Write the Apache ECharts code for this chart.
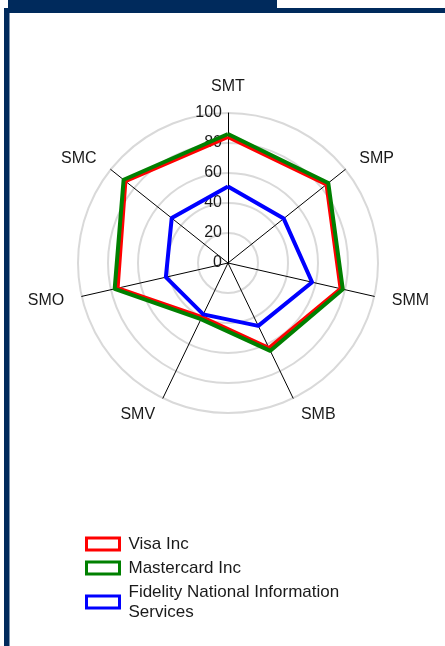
<!DOCTYPE html>
<html>
<head>
<meta charset="utf-8">
<script src="https://cdn.jsdelivr.net/npm/echarts@6/dist/echarts.min.js"></script>
<style>
html,body{margin:0;padding:0;background:#fff;}
#chart{width:445px;height:646px;}
</style>
</head>
<body>
<div id="chart"></div>
<script>
// Indicators in ECharts drawing order (counter-clockwise from top)
const categories = ['SMT', 'SMC', 'SMO', 'SMV', 'SMB', 'SMM', 'SMP'];
const seriesNames = ['Visa Inc', 'Mastercard Inc', 'Fidelity National Information Services'];
const visaValues = [84, 87.5, 75.5, 40, 63, 77, 84];
const mastercardValues = [86, 89, 77.5, 41.5, 65, 78.5, 85.5];
const fidelityValues = [51, 48, 42.5, 38, 46.5, 57.5, 47.5];
const seriesColors = ['#ff0000', '#008000', '#0000ff'];
const axisMax = 100;

const valueSets = [visaValues, mastercardValues, fidelityValues];
const labelFont = '"Liberation Sans Narrow", "Liberation Sans", Arial, sans-serif';

const chart = echarts.init(document.getElementById('chart'), null, {renderer: 'canvas'});
chart.setOption({
  animation: false,
  backgroundColor: '#ffffff',
  graphic: [
    {type: 'rect', shape: {x: 8, y: 0, width: 269, height: 9}, style: {fill: '#002a5c'}},
    {type: 'rect', shape: {x: 4, y: 8, width: 441, height: 5}, style: {fill: '#002a5c'}},
    {type: 'rect', shape: {x: 4, y: 8, width: 5.5, height: 638}, style: {fill: '#002a5c'}}
  ],
  legend: {
    orient: 'vertical',
    left: 80,
    top: 529,
    height: 117,
    itemWidth: 33,
    itemHeight: 12,
    itemGap: 4,
    icon: 'rect',
    data: seriesNames.map((n, i) => ({
      name: n,
      itemStyle: {color: '#ffffff', borderColor: seriesColors[i], borderWidth: 3}
    })),
    textStyle: {
      fontFamily: '"Liberation Sans", Arial, sans-serif',
      fontSize: 17,
      color: '#1a1a1a',
      width: 240,
      overflow: 'break',
      lineHeight: 20,
      padding: [0, 0, 0, 4]
    }
  },
  radar: {
    center: [228, 263],
    radius: 150,
    startAngle: 90,
    shape: 'circle',
    splitNumber: 5,
    nameGap: 18,
    axisName: {
      color: '#1a1a1a',
      fontSize: 16,
      fontFamily: labelFont
    },
    indicator: categories.map((c, i) => i === 0
      ? {name: c, min: 0, max: axisMax}
      : {name: c, min: 0, max: axisMax, axisLabel: {show: false}}),
    axisLine: {lineStyle: {color: '#000', width: 1}},
    axisTick: {show: false},
    axisLabel: {
      show: true,
      fontSize: 16,
      fontFamily: labelFont,
      color: '#1a1a1a',
      margin: 6
    },
    splitLine: {lineStyle: {color: '#d9d9d9', width: 2}},
    splitArea: {show: false}
  },
  series: [{
    type: 'radar',
    symbol: 'none',
    data: seriesNames.map((n, i) => ({
      name: n,
      value: valueSets[i],
      lineStyle: {color: seriesColors[i], width: 4},
      itemStyle: {color: seriesColors[i]}
    }))
  }]
});
</script>
</body>
</html>
